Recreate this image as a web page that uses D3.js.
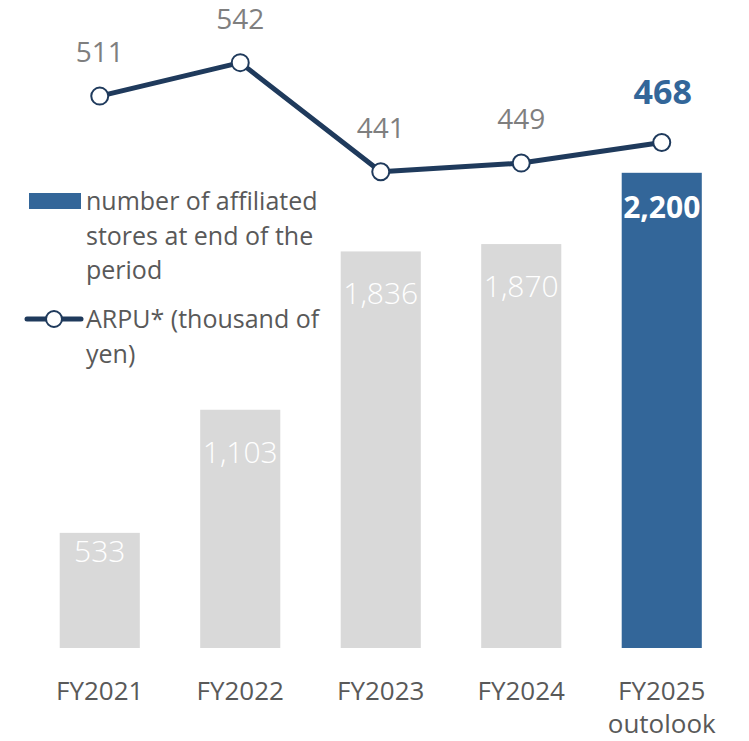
<!DOCTYPE html>
<html><head><meta charset="utf-8">
<script src="https://cdn.jsdelivr.net/npm/d3@7"></script>
<style>body{margin:0;background:#fff}svg{display:block}text{font-family:"Open Sans",sans-serif}</style>
</head><body><svg id="c" width="749" height="741"></svg>
<script>
const categories = ["FY2021","FY2022","FY2023","FY2024","FY2025\noutolook"];
const stores = [533, 1103, 1836, 1870, 2200];
const arpu = [511, 542, 441, 449, 468];
const highlight = [false, false, false, false, true];
const legendBar = ["number of affiliated","stores at end of the","period"];
const legendLine = ["ARPU* (thousand of","yen)"];

const svg = d3.select("#c");
const x = d3.scaleBand().domain(categories).range([29.5, 732]).paddingInner(0.43).paddingOuter(0.215);
const yBar = d3.scaleLinear().domain([0, 3000]).range([648, 0]);
const yLine = d3.scaleLinear().domain([0, 600]).range([648, 0]);
const navy = "#1f3a5c", blue = "#336699", gray = "#d9d9d9";

// bars
svg.selectAll("rect.bar").data(stores).join("rect")
  .attr("x", (d,i)=>x(categories[i]))
  .attr("width", x.bandwidth())
  .attr("y", d=>yBar(d))
  .attr("height", d=>yBar(0)-yBar(d))
  .attr("fill", (d,i)=>highlight[i]?blue:gray);

svg.selectAll("text.bl").data(stores).join("text")
  .attr("x", (d,i)=>x(categories[i])+x.bandwidth()/2)
  .attr("y", (d,i)=>{const h=yBar(0)-yBar(d); return yBar(d)+(highlight[i]?45:Math.min(53,h/4));})
  .attr("text-anchor","middle")
  .attr("fill","#fff")
  .attr("font-size", 30)
  .attr("font-weight", (d,i)=>highlight[i]?700:300)
  .text(d=>d3.format(",")(d));

// line
const cx = (i)=>x(categories[i])+x.bandwidth()/2;
svg.append("path").datum(arpu)
  .attr("d", d3.line().x((d,i)=>cx(i)).y(d=>yLine(d)))
  .attr("fill","none").attr("stroke",navy).attr("stroke-width",5).attr("stroke-linejoin","round");
svg.selectAll("circle.pt").data(arpu).join("circle")
  .attr("cx",(d,i)=>cx(i)).attr("cy",d=>yLine(d)).attr("r",8.5)
  .attr("fill","#fff").attr("stroke",navy).attr("stroke-width",2);
svg.selectAll("text.ll").data(arpu).join("text")
  .attr("x",(d,i)=>cx(i)+(highlight[i]?1:0))
  .attr("y",(d,i)=>yLine(d)-(highlight[i]?39:34))
  .attr("text-anchor","middle")
  .attr("fill",(d,i)=>highlight[i]?blue:"#7f7f7f")
  .attr("font-size",(d,i)=>highlight[i]?34:28)
  .attr("font-weight",(d,i)=>highlight[i]?700:400)
  .text(d=>d);

// x axis labels
const xa = svg.append("g");
categories.forEach((c,i)=>{
  const t = xa.append("text").attr("x",cx(i)).attr("y",700).attr("text-anchor","middle")
    .attr("fill","#595959").attr("font-size",26);
  c.split("\n").forEach((s,j)=>t.append("tspan").attr("x",cx(i)).attr("dy", j?33:0).text(s));
});

// legend
const lg = svg.append("g");
lg.append("rect").attr("x",29).attr("y",193).attr("width",52).attr("height",16).attr("fill",blue);
legendBar.forEach((s,j)=>lg.append("text").attr("x",86).attr("y",210+j*34.5).attr("fill","#595959").attr("font-size",25).text(s));
lg.append("line").attr("x1",27).attr("x2",81).attr("y1",319).attr("y2",319).attr("stroke",navy).attr("stroke-width",5).attr("stroke-linecap","round");
lg.append("circle").attr("cx",54).attr("cy",319).attr("r",8).attr("fill","#fff").attr("stroke",navy).attr("stroke-width",2);
legendLine.forEach((s,j)=>lg.append("text").attr("x",86).attr("y",328+j*35).attr("fill","#595959").attr("font-size",25).text(s));
</script></body></html>
